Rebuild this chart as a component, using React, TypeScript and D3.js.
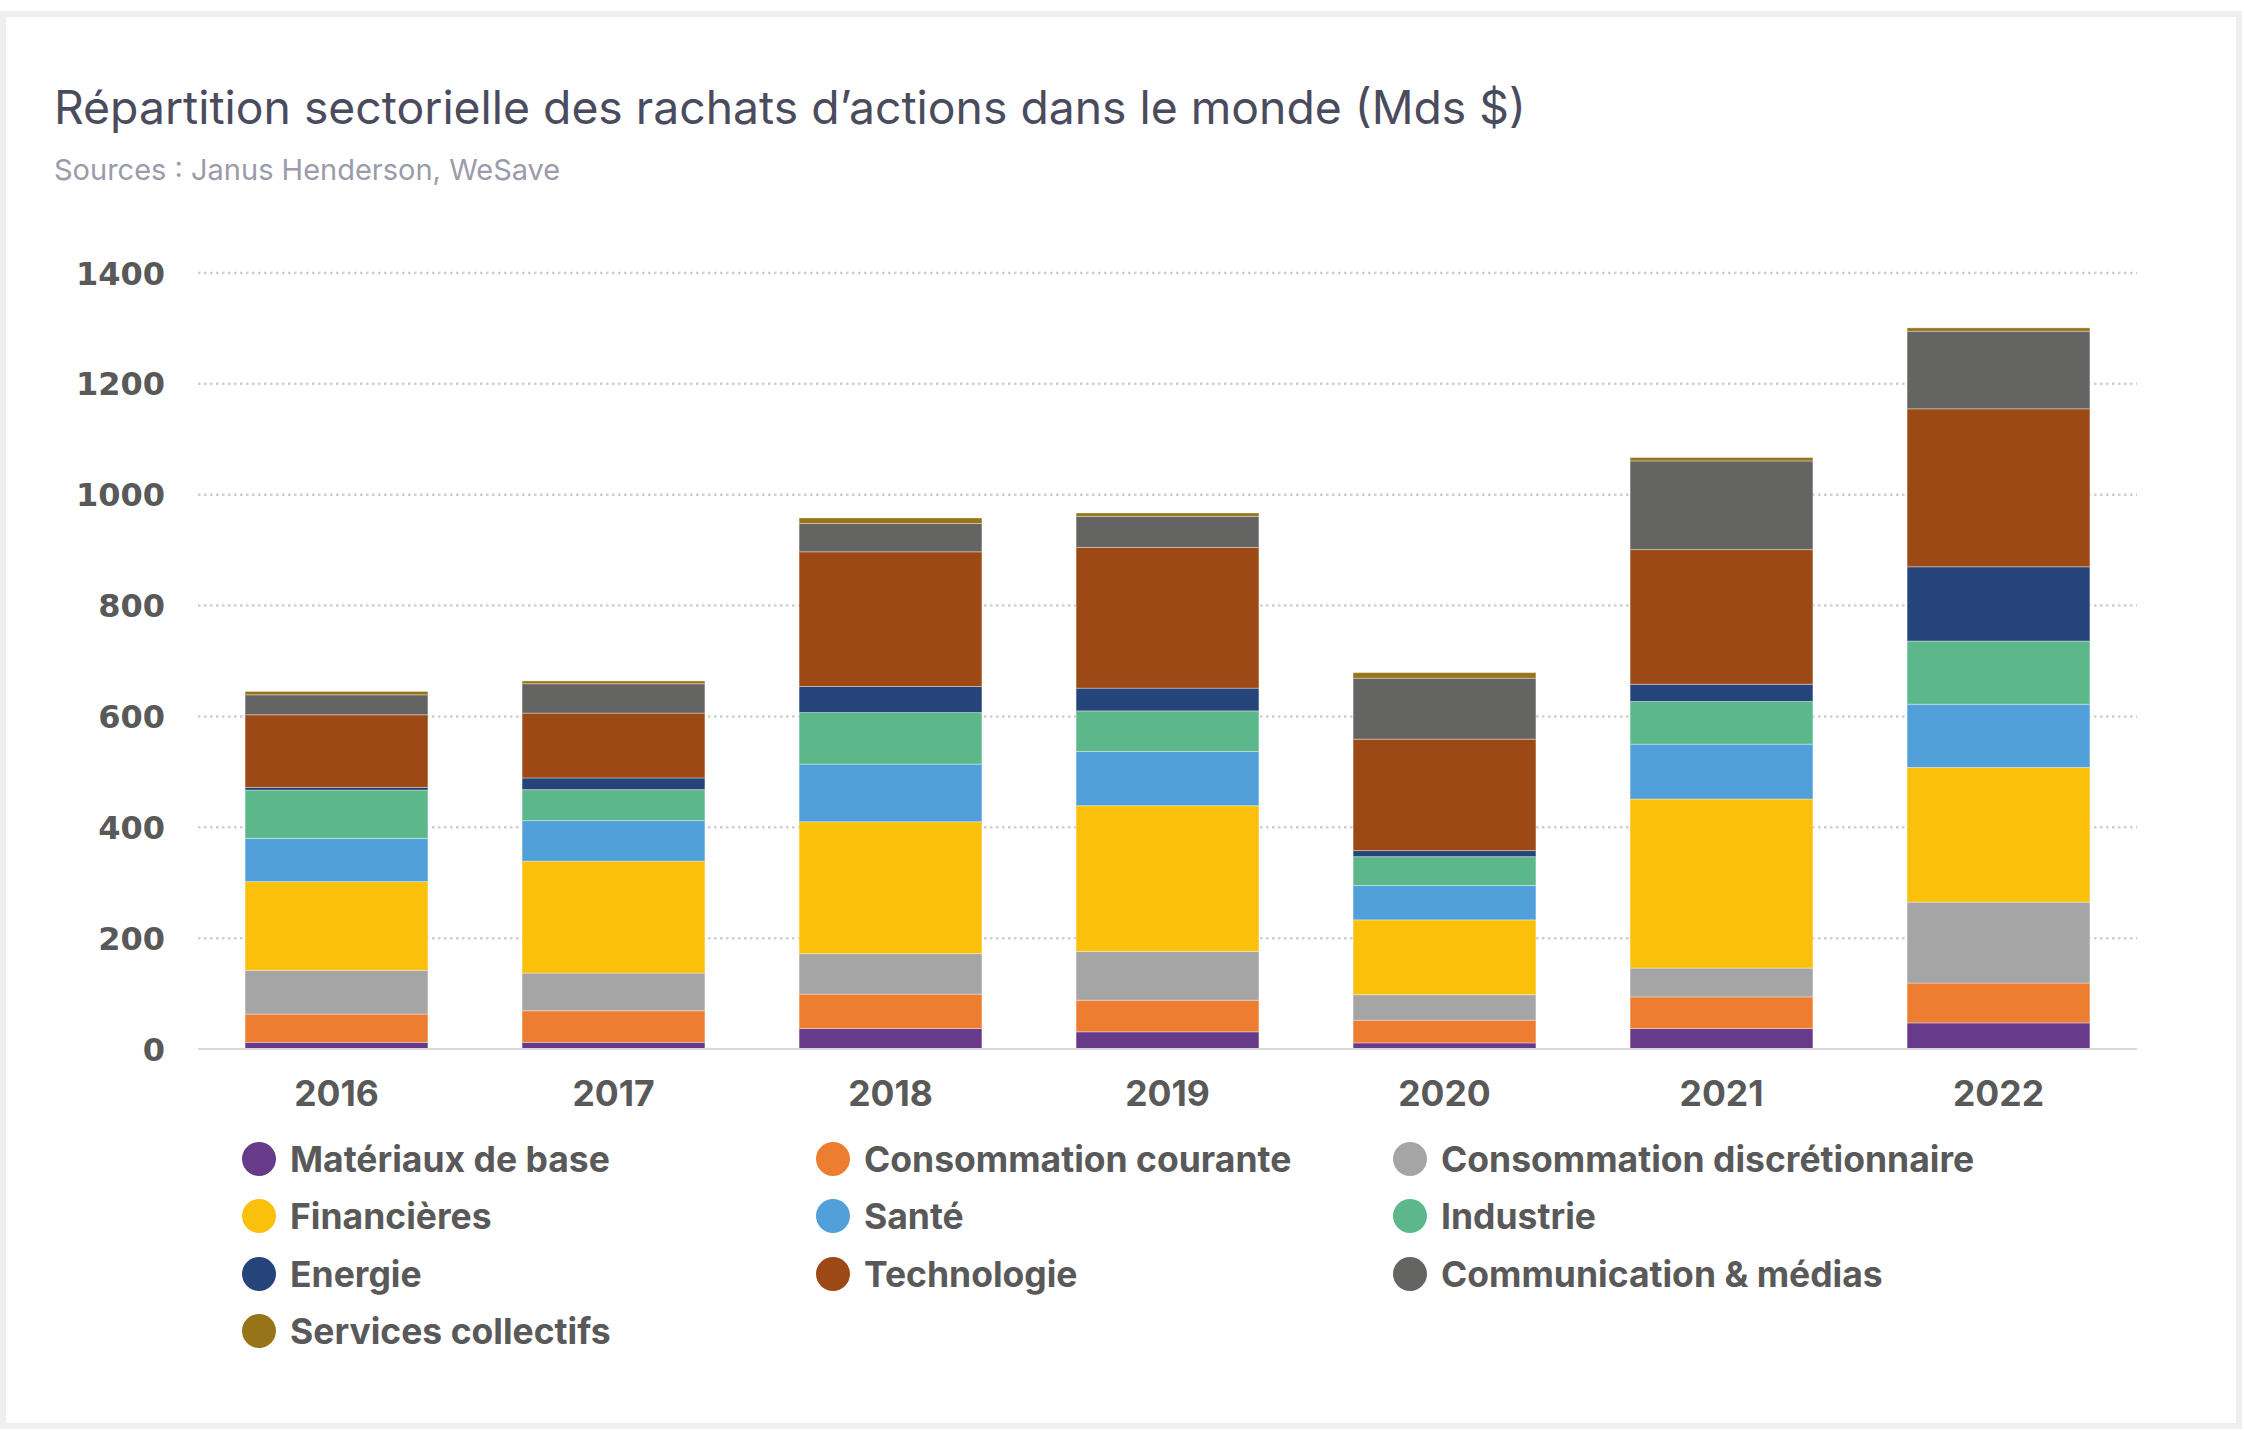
import React from "react";
import * as d3 from "d3";

const years = ["2016", "2017", "2018", "2019", "2020", "2021", "2022"];

const sectors = [
  "Matériaux de base",
  "Consommation courante",
  "Consommation discrétionnaire",
  "Financières",
  "Santé",
  "Industrie",
  "Energie",
  "Technologie",
  "Communication & médias",
  "Services collectifs",
];

const colors = [
  "#673a8a",
  "#ed7d31",
  "#a5a5a5",
  "#fbc00b",
  "#51a0d9",
  "#5cb88a",
  "#25457a",
  "#9c4916",
  "#646462",
  "#97731a",
];

// Mds $ per sector, one value per year (2016..2022)
const materiaux = [12, 12, 37, 31, 11, 37, 47];
const consoCourante = [51, 57, 62, 57, 41, 57, 72];
const consoDiscr = [79, 68, 73, 88, 46, 52, 146];
const financieres = [160, 202, 238, 263, 135, 305, 243];
const sante = [78, 73, 104, 98, 62, 99, 114];
const industrie = [87, 56, 93, 73, 52, 77, 114];
const energie = [5, 21, 47, 41, 11, 31, 134];
const technologie = [131, 117, 243, 254, 201, 243, 285];
const communication = [36, 53, 51, 56, 110, 160, 140];
const servicesColl = [6, 5, 10, 6, 10, 6, 6];

const yTicks = [0, 200, 400, 600, 800, 1000, 1200, 1400];

const series = [
  materiaux,
  consoCourante,
  consoDiscr,
  financieres,
  sante,
  industrie,
  energie,
  technologie,
  communication,
  servicesColl,
];

const W = 2244;
const H = 1430;

const App: React.FC = () => {
  const rows = years.map((year, i) => {
    const row: Record<string, number | string> = { year };
    sectors.forEach((s, k) => (row[s] = series[k][i]));
    return row;
  });

  const stack = d3.stack<Record<string, number | string>>().keys(sectors);
  const layers = stack(rows as any);

  const x = d3
    .scaleBand()
    .domain(years)
    .range([198, 2137])
    .paddingInner(0.34)
    .paddingOuter(0.17);

  const y = d3.scaleLinear().domain([0, 1400]).range([1049, 273]);

  const legendCols = [259, 833, 1410];
  const legendRows = [1159, 1216, 1274, 1331];

  return (
    <div style={{ position: "absolute", left: 0, top: 0 }}>
      <svg width={W} height={H} style={{ display: "block", background: "#fff" }}>
        <rect x={3} y={14} width={W - 8} height={H - 18} fill="#fff" stroke="#efefef" strokeWidth={6} />
        <text x={54} y={124} fontFamily="Inter" fontSize={46.3} fill="#4b4b5e">
          Répartition sectorielle des rachats d’actions dans le monde (Mds $)
        </text>
        <text x={54} y={180} fontFamily="Inter" fontSize={29} fill="#9b9bab">
          Sources : Janus Henderson, WeSave
        </text>

        {yTicks.map((t) => (
          <g key={t}>
            {t > 0 && (
              <line
                x1={198}
                x2={2137}
                y1={y(t)}
                y2={y(t)}
                stroke="#cfcfcf"
                strokeWidth={2.5}
                strokeDasharray="2.5 3.5"
              />
            )}
            <text
              x={165}
              y={y(t)}
              dy="0.36em"
              textAnchor="end"
              fontFamily="DejaVu Sans"
              fontWeight="bold"
              fontSize={32}
              fill="#595959"
            >
              {t}
            </text>
          </g>
        ))}

        {layers.map((layer, k) => (
          <g key={sectors[k]} fill={colors[k]}>
            {layer.map((d, i) => (
              <rect
                key={i}
                x={x(years[i])}
                y={y(d[1])}
                width={x.bandwidth()}
                height={y(d[0]) - y(d[1])}
                stroke="#ffffff"
                strokeOpacity={0.35}
                strokeWidth={1}
              />
            ))}
          </g>
        ))}

        <line x1={198} x2={2137} y1={y(0)} y2={y(0)} stroke="#d9d9d9" strokeWidth={2} />

        {years.map((yr) => (
          <text
            key={yr}
            x={(x(yr) as number) + x.bandwidth() / 2}
            y={1106}
            textAnchor="middle"
            fontFamily="Inter"
            fontWeight="bold"
            fontSize={35.5}
            fill="#595959"
          >
            {yr}
          </text>
        ))}

        {sectors.map((s, k) => {
          const cx = legendCols[k % 3];
          const cy = legendRows[Math.floor(k / 3)];
          return (
            <g key={s}>
              <circle cx={cx} cy={cy} r={17} fill={colors[k]} />
              <text
                x={cx + 31}
                y={cy}
                dy="0.36em"
                fontFamily="Inter"
                fontWeight="bold"
                fontSize={35.5}
                fill="#595959"
              >
                {s}
              </text>
            </g>
          );
        })}
      </svg>
    </div>
  );
};

export default App;
